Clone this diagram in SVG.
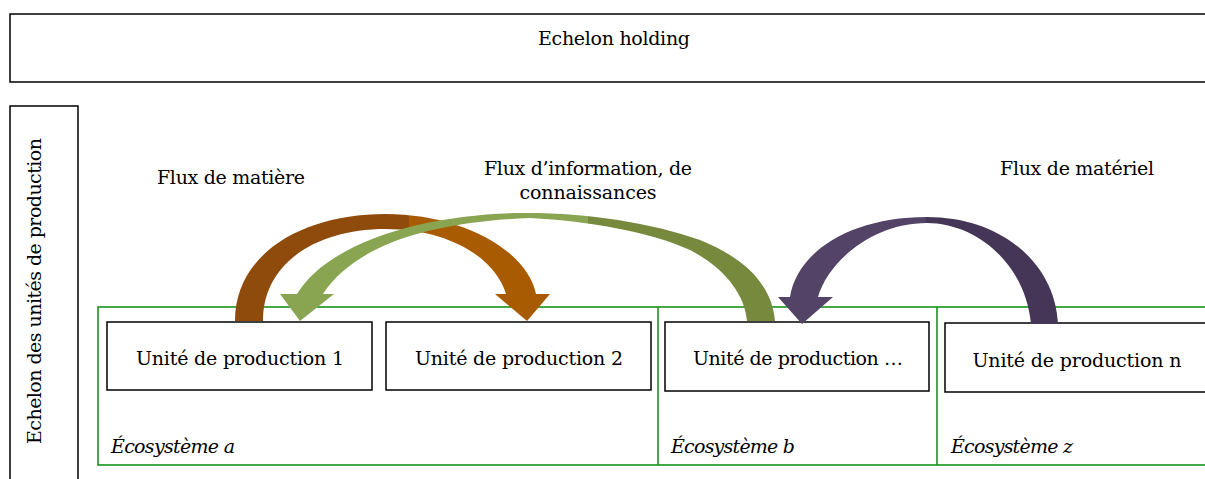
<svg xmlns="http://www.w3.org/2000/svg" width="1205" height="479" viewBox="0 0 1205 479">
<style>
  .box{fill:#fff;stroke:#000;stroke-width:1.5}
  .eco{fill:none;stroke:#14951a;stroke-width:1.6}
  .t{font-family:"DejaVu Serif","Liberation Serif",serif;font-size:19px;fill:#000}
  .c{text-anchor:middle}
  .i{font-style:italic}
</style>
<defs>
  <linearGradient id="gBrown" gradientUnits="userSpaceOnUse" x1="230" y1="0" x2="555" y2="0">
    <stop offset="0" stop-color="#8E4B0B"/>
    <stop offset="0.55" stop-color="#8E4B0B"/>
    <stop offset="0.55" stop-color="#A95B02"/>
    <stop offset="1" stop-color="#A95B02"/>
  </linearGradient>
  <linearGradient id="gGreen" gradientUnits="userSpaceOnUse" x1="275" y1="0" x2="780" y2="0">
    <stop offset="0" stop-color="#8AA551"/>
    <stop offset="0.62" stop-color="#8AA551"/>
    <stop offset="0.62" stop-color="#76893D"/>
    <stop offset="1" stop-color="#76893D"/>
  </linearGradient>
  <linearGradient id="gPurple" gradientUnits="userSpaceOnUse" x1="775" y1="0" x2="1060" y2="0">
    <stop offset="0" stop-color="#534366"/>
    <stop offset="0.53" stop-color="#534366"/>
    <stop offset="0.53" stop-color="#453657"/>
    <stop offset="1" stop-color="#453657"/>
  </linearGradient>
</defs>

<g id="holding">
  <rect class="box" x="10" y="14" width="1205" height="68"/>
  <text class="t c" x="614" y="45" textLength="152">Echelon holding</text>
</g>

<g id="echelon-unites">
  <rect class="box" x="10" y="106" width="68" height="390"/>
  <text class="t c" transform="translate(41,291) rotate(-90)" x="0" y="0" textLength="306">Echelon des unités de production</text>
</g>

<g id="ecosystemes">
  <rect class="eco" x="98" y="307" width="1120" height="158"/>
  <line class="eco" x1="658" y1="307" x2="658" y2="465"/>
  <line class="eco" x1="937" y1="307" x2="937" y2="465"/>
</g>
<g id="eco-a"><text class="t i" x="111" y="453" textLength="124">Écosystème a</text></g>
<g id="eco-b"><text class="t i" x="671" y="453" textLength="124">Écosystème b</text></g>
<g id="eco-z"><text class="t i" x="951" y="453" textLength="122">Écosystème z</text></g>

<g id="up1">
  <rect class="box" x="107" y="322" width="265" height="68"/>
  <text class="t c" x="240" y="365" textLength="208">Unité de production 1</text>
</g>
<g id="up2">
  <rect class="box" x="386" y="322" width="265" height="68"/>
  <text class="t c" x="519" y="365" textLength="208">Unité de production 2</text>
</g>
<g id="up3">
  <rect class="box" x="665" y="322" width="264" height="69"/>
  <text class="t c" x="798" y="365" textLength="210">Unité de production …</text>
</g>
<g id="upn">
  <rect class="box" x="945" y="323" width="275" height="69"/>
  <text class="t c" x="1077" y="367" textLength="209">Unité de production n</text>
</g>

<g id="labels">
  <text class="t c" x="231" y="184" textLength="148">Flux de matière</text>
  <text class="t c" x="588" y="175" textLength="208">Flux d’information, de</text>
  <text class="t c" x="588" y="199" textLength="137">connaissances</text>
  <text class="t c" x="1077" y="175" textLength="154">Flux de matériel</text>
</g>

<g id="connectors">
  <path id="flux-matiere" fill="url(#gBrown)" d="M235,321 C235,252 305,214 385,214 C462,214 527,250 536,294 L550,294 L527,321 L495,294 L506,294 C496,260 452,229 385,229 C318,229 263,262 263,321 Z"/>
  <path id="flux-info" fill="url(#gGreen)" d="M775,321 C772,285 745,258 700,240 C650,222 580,212 520,213 C430,214 330,240 297,294 L280,294 L300,321 L334,294 L323,294 C355,245 430,222 530,218 C590,221 650,232 690,250 C725,268 745,295 747,321 Z"/>
  <path id="flux-materiel" fill="url(#gPurple)" d="M1058,324 C1055,262 1000,217 927,217 C850,217 797,252 790,297 L778,297 L802,324 L833,297 L818,297 C828,262 872,223 927,223 C975,223 1025,262 1031,324 Z"/>
</g>
</svg>
